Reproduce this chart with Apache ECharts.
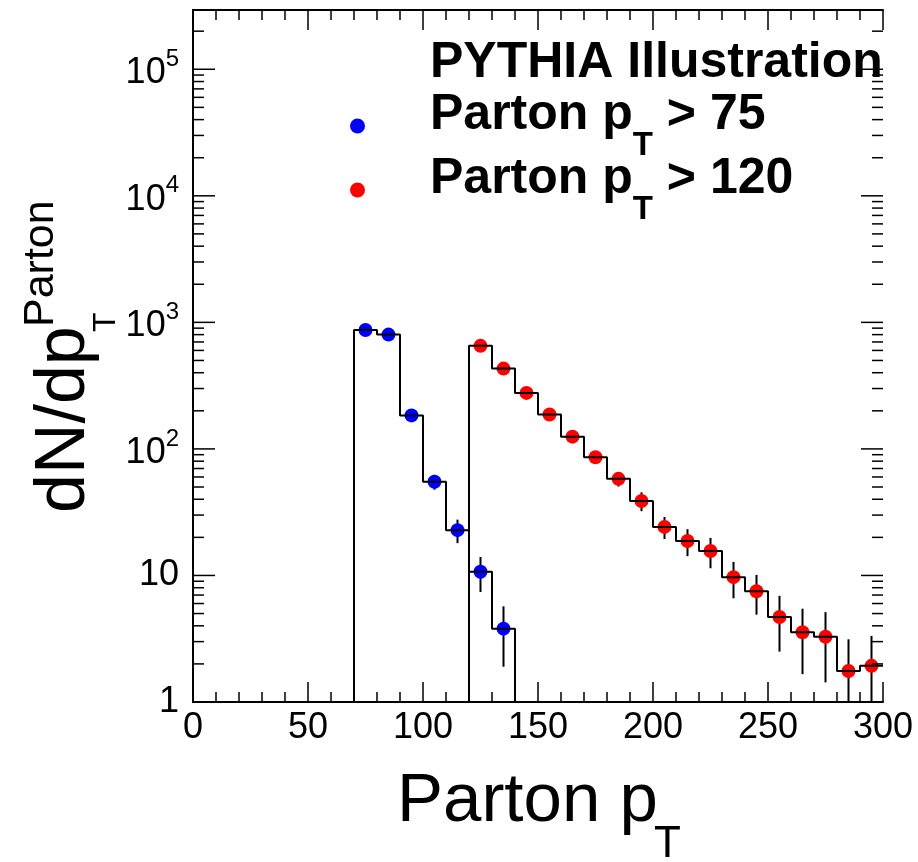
<!DOCTYPE html>
<html>
<head>
<meta charset="utf-8">
<script src="https://cdn.jsdelivr.net/npm/echarts@6/dist/echarts.min.js"></script>
<style>
html,body{margin:0;padding:0;background:#ffffff;}
#chart{width:918px;height:862px;}
</style>
</head>
<body>
<div id="chart"></div>
<script>
// ---- data ----
const binWidth = 10;
const blueName = 'Parton pT > 75';
const redName = 'Parton pT > 120';
const blueCenters = [75, 85, 95, 105, 115, 125, 135];
const blueValues  = [870, 800, 184, 55, 22.8, 10.7, 3.8];
const blueErrors  = [29.5, 28.3, 13.6, 7.4, 4.8, 3.3, 1.9];
const redCenters = [125, 135, 145, 155, 165, 175, 185, 195, 205, 215, 225, 235, 245, 255, 265, 275, 285, 295];
const redValues  = [652, 431, 277, 187, 125, 86, 58, 38.8, 24.2, 18.7, 15.6, 9.7, 7.5, 4.7, 3.56, 3.28, 1.76, 1.93];
const redErrors  = [25.5, 20.8, 16.6, 13.7, 11.2, 9.3, 7.6, 6.6, 4.8, 4.5, 4.2, 3.1, 2.6, 2.2, 1.9, 1.85, 1.37, 1.4];
const xMin = 0, xMax = 300, xInterval = 50;
const yMin = 1, yMax = 294000;
const yDecades = [1, 10, 100, 1000, 10000, 100000];
const minorMultipliers = [2, 3, 4, 5, 6, 7, 8, 9];

const FONT = '"Liberation Sans", Arial, Helvetica, sans-serif';

// ---- derived structures for the library ----
function stepPoints(centers, values, closeEnd) {
  const pts = [];
  pts.push([centers[0] - binWidth / 2, yMin]);
  centers.forEach((c, i) => {
    pts.push([c - binWidth / 2, values[i]]);
    pts.push([c + binWidth / 2, values[i]]);
  });
  if (closeEnd) pts.push([centers[centers.length - 1] + binWidth / 2, yMin]);
  return pts;
}
function pointData(centers, values) { return centers.map((c, i) => [c, values[i]]); }
function errData(centers, values, errs) { return centers.map((c, i) => [c, values[i], errs[i]]); }

// y-axis tick marks (value, length) for both frame sides
const yTickData = [];
yDecades.forEach(d => {
  if (d > yMin && d < yMax) yTickData.push([xMin, d, 22]);
  minorMultipliers.forEach(m => { const v = d * m; if (v < yMax) yTickData.push([xMin, v, 11]); });
});

const chart = echarts.init(document.getElementById('chart'), null, {renderer: 'canvas'});

function errRender(params, api) {
  const x = api.value(0), y = api.value(1), e = api.value(2);
  const hi = api.coord([x, y + e]);
  const lo = api.coord([x, Math.max(y - e, yMin)]);
  return {type: 'line', shape: {x1: hi[0], y1: hi[1], x2: lo[0], y2: lo[1]},
          style: {stroke: '#000', lineWidth: 2}};
}
function yTickRender(params, api) {
  const v = api.value(1), len = api.value(2);
  const l = api.coord([xMin, v]);
  const r = api.coord([xMax, v]);
  return {type: 'group', children: [
    {type: 'line', shape: {x1: l[0], y1: l[1], x2: l[0] + len, y2: l[1]}, style: {stroke: '#000', lineWidth: 1.5}},
    {type: 'line', shape: {x1: r[0], y1: r[1], x2: r[0] - len, y2: r[1]}, style: {stroke: '#000', lineWidth: 1.5}}
  ]};
}

const legendRich = {
  a0: {fontFamily: FONT, fontSize: 50, fontWeight: 'bold', lineHeight: 44, verticalAlign: 'top', color: '#000', padding: [0, 0, 0, 60]},
  a:  {fontFamily: FONT, fontSize: 50, fontWeight: 'bold', lineHeight: 44, verticalAlign: 'top', color: '#000'},
  s:  {fontFamily: FONT, fontSize: 33, fontWeight: 'bold', lineHeight: 72, verticalAlign: 'bottom', color: '#000'}
};

const xAxisCommon = {
  type: 'value', min: xMin, max: xMax, interval: xInterval,
  axisLine: {show: true, lineStyle: {color: '#000', width: 2}},
  axisTick: {show: true, inside: true, length: 20, lineStyle: {color: '#000', width: 1.5}},
  minorTick: {show: true, splitNumber: 5, length: 10, lineStyle: {color: '#000', width: 1.5}},
  splitLine: {show: false}, minorSplitLine: {show: false}
};
const yAxisCommon = {
  type: 'log', logBase: 10, min: yMin, max: yMax,
  axisLine: {show: true, lineStyle: {color: '#000', width: 2}},
  axisTick: {show: false},
  minorTick: {show: false},
  splitLine: {show: false}
};

const option = {
  animation: false,
  backgroundColor: '#ffffff',
  grid: {left: 193, right: 35, top: 10, bottom: 160, containLabel: false},
  xAxis: [
    Object.assign({}, xAxisCommon, {position: 'bottom',
      axisLabel: {show: true, margin: 8, fontSize: 36, fontFamily: FONT, color: '#000'}}),
    Object.assign({}, xAxisCommon, {position: 'top', axisLabel: {show: false}})
  ],
  yAxis: [
    Object.assign({}, yAxisCommon, {position: 'left',
      axisLabel: {show: true, margin: 14, color: '#000',
        formatter: function (v) {
          const lg = Math.log10(v); const e = Math.round(lg);
          if (Math.abs(lg - e) > 1e-6) return '';
          if (e === 0) return '{c|1}';
          if (e === 1) return '{c|10}';
          return '{b|10}{p|' + e + '}';
        },
        rich: {
          c: {fontFamily: FONT, fontSize: 36, lineHeight: 36, color: '#000'},
          b: {fontFamily: FONT, fontSize: 36, lineHeight: 44, verticalAlign: 'bottom', color: '#000'},
          p: {fontFamily: FONT, fontSize: 24, lineHeight: 24, verticalAlign: 'top', color: '#000'}
        }}}),
    Object.assign({}, yAxisCommon, {position: 'right', axisLabel: {show: false}})
  ],
  legend: {
    data: [blueName, redName], orient: 'vertical', left: 350, top: 90, padding: 0, itemGap: -8,
    itemWidth: 15, itemHeight: 15, icon: 'circle', selectedMode: false,
    formatter: function (name) {
      const rest = name === blueName ? ' > 75' : ' > 120';
      return '{a0|Parton p}{s|T}{a|' + rest + '}';
    },
    textStyle: {fontFamily: FONT, color: '#000', rich: legendRich}
  },
  graphic: [
    {type: 'text', x: 430, y: 63, style: {text: 'PYTHIA Illustration', font: 'bold 50px ' + FONT, fill: '#000', align: 'left', verticalAlign: 'middle'}},
    {type: 'text', x: 397, y: 802, style: {text: 'Parton p', font: '69px ' + FONT, fill: '#000', align: 'left', verticalAlign: 'middle'}},
    {type: 'text', x: 654, y: 845, style: {text: 'T', font: '44px ' + FONT, fill: '#000', align: 'left', verticalAlign: 'middle'}},
    {type: 'text', x: 65, y: 513, rotation: Math.PI / 2, style: {text: 'dN/dp', font: '70px ' + FONT, fill: '#000', align: 'left', verticalAlign: 'middle'}},
    {type: 'text', x: 41, y: 327, rotation: Math.PI / 2, style: {text: 'Parton', font: '43px ' + FONT, fill: '#000', align: 'left', verticalAlign: 'middle'}},
    {type: 'text', x: 106, y: 332, rotation: Math.PI / 2, style: {text: 'T', font: '32px ' + FONT, fill: '#000', align: 'left', verticalAlign: 'middle'}}
  ],
  series: [
    {type: 'custom', name: 'yTicks', renderItem: yTickRender, data: yTickData, silent: true, z: 5, clip: false},
    {type: 'custom', name: 'blueErr', renderItem: errRender, data: errData(blueCenters, blueValues, blueErrors), silent: true, z: 2},
    {type: 'custom', name: 'redErr', renderItem: errRender, data: errData(redCenters, redValues, redErrors), silent: true, z: 2},
    {type: 'scatter', name: blueName, data: pointData(blueCenters, blueValues), symbol: 'circle', symbolSize: 14,
     itemStyle: {color: '#0000ff', opacity: 1}, z: 3, silent: true},
    {type: 'scatter', name: redName, data: pointData(redCenters, redValues), symbol: 'circle', symbolSize: 14,
     itemStyle: {color: '#ff0000', opacity: 1}, z: 3, silent: true},
    {type: 'line', name: 'blueHist', data: stepPoints(blueCenters, blueValues, true), showSymbol: false, symbol: 'none',
     lineStyle: {color: '#000', width: 2}, z: 4, silent: true, clip: false},
    {type: 'line', name: 'redHist', data: stepPoints(redCenters, redValues, false), showSymbol: false, symbol: 'none',
     lineStyle: {color: '#000', width: 2}, z: 4, silent: true, clip: false}
  ]
};
chart.setOption(option);
</script>
</body>
</html>
